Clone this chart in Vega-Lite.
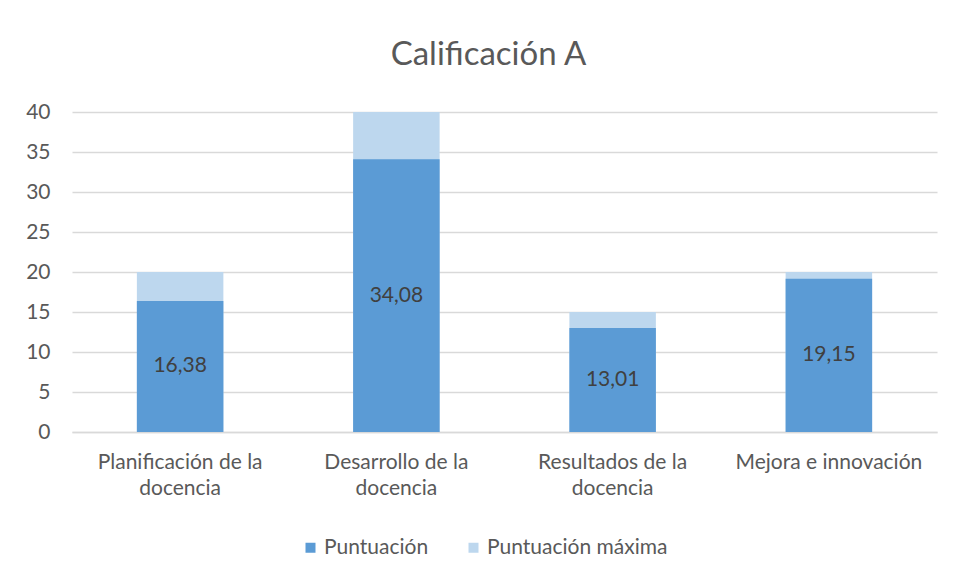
{
  "$schema": "https://vega.github.io/schema/vega-lite/v6.json",
  "width": 865,
  "height": 320,
  "autosize": "none",
  "padding": {"left": 72, "top": 112, "right": 18, "bottom": 146},
  "background": "white",
  "config": {
    "font": "Lato",
    "view": {"stroke": null},
    "locale": {"number": {"decimal": ",", "thousands": ".", "grouping": [3], "currency": ["", " €"]}},
    "axisY": {
      "title": null,
      "labelFontSize": 21,
      "labelColor": "#595959",
      "labelPadding": 22,
      "ticks": false,
      "domain": false,
      "gridColor": "#d9d9d9",
      "gridWidth": 1.5
    }
  },
  "title": {
    "text": "Calificación A",
    "fontSize": 33,
    "fontWeight": "normal",
    "color": "#595959",
    "offset": 29,
    "dx": -16
  },
  "data": {
    "values": [
      {"categoria": "Planificación de la docencia", "serie": "Puntuación máxima", "valor": 20},
      {"categoria": "Desarrollo de la docencia", "serie": "Puntuación máxima", "valor": 40},
      {"categoria": "Resultados de la docencia", "serie": "Puntuación máxima", "valor": 15},
      {"categoria": "Mejora e innovación", "serie": "Puntuación máxima", "valor": 20},
      {"categoria": "Planificación de la docencia", "serie": "Puntuación", "valor": 16.38},
      {"categoria": "Desarrollo de la docencia", "serie": "Puntuación", "valor": 34.08},
      {"categoria": "Resultados de la docencia", "serie": "Puntuación", "valor": 13.01},
      {"categoria": "Mejora e innovación", "serie": "Puntuación", "valor": 19.15}
    ]
  },
  "encoding": {
    "x": {
      "field": "categoria",
      "type": "nominal",
      "sort": null,
      "scale": {"paddingInner": 0.6, "paddingOuter": 0.3},
      "axis": {
        "title": null,
        "labelAngle": 0,
        "labelFontSize": 21,
        "labelColor": "#595959",
        "labelPadding": 19,
        "labelLineHeight": 26,
        "labelBaseline": "top",
        "labelLimit": 0,
        "labelExpr": "indexof(datum.label, ' docencia') > 0 ? [replace(datum.label, ' docencia', ''), 'docencia'] : datum.label",
        "ticks": false,
        "domainColor": "#d9d9d9",
        "domainWidth": 1.5,
        "grid": false
      }
    }
  },
  "layer": [
    {
      "transform": [{"filter": "datum.serie == 'Puntuación máxima'"}],
      "mark": {"type": "bar"},
      "encoding": {
        "y": {
          "field": "valor",
          "type": "quantitative",
          "scale": {"domain": [0, 40]},
          "axis": {"values": [0, 5, 10, 15, 20, 25, 30, 35, 40]}
        },
        "color": {
          "field": "serie",
          "type": "nominal",
          "scale": {"domain": ["Puntuación", "Puntuación máxima"], "range": ["#5B9BD5", "#BDD7EE"]},
          "legend": {
            "title": null,
            "orient": "none",
            "direction": "horizontal",
            "legendX": 228,
            "legendY": 425,
            "symbolType": "square",
            "symbolSize": 100,
            "symbolStrokeWidth": 0,
            "labelFontSize": 21,
            "labelColor": "#595959",
            "labelOffset": 3,
            "labelLimit": 0,
            "columnPadding": 34
          }
        }
      }
    },
    {
      "transform": [{"filter": "datum.serie == 'Puntuación'"}],
      "mark": {"type": "bar"},
      "encoding": {
        "y": {
          "field": "valor",
          "type": "quantitative",
          "axis": {"values": [0, 5, 10, 15, 20, 25, 30, 35, 40]}
        },
        "color": {"field": "serie", "type": "nominal"}
      }
    },
    {
      "transform": [
        {"filter": "datum.serie == 'Puntuación'"},
        {"calculate": "datum.valor / 2", "as": "posicion_etiqueta"}
      ],
      "mark": {"type": "text", "fontSize": 21, "color": "#404040", "baseline": "middle"},
      "encoding": {
        "y": {
          "field": "posicion_etiqueta",
          "type": "quantitative",
          "axis": {"values": [0, 5, 10, 15, 20, 25, 30, 35, 40]}
        },
        "text": {"field": "valor", "type": "quantitative", "format": ".2f"}
      }
    }
  ]
}
